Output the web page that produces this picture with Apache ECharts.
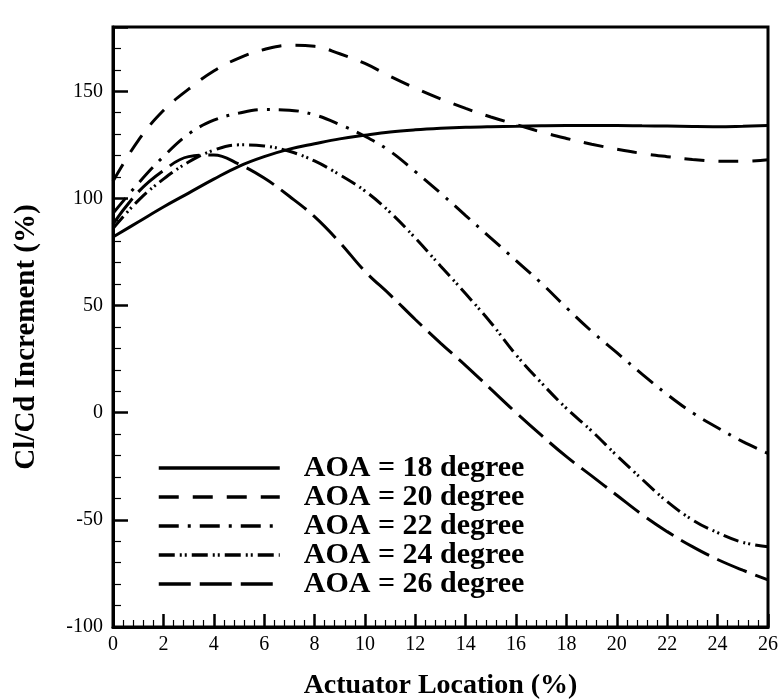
<!DOCTYPE html>
<html>
<head>
<meta charset="utf-8">
<script src="https://cdn.jsdelivr.net/npm/echarts@6/dist/echarts.min.js"></script>
<style>html,body{margin:0;padding:0;background:#fff;}#c{width:782px;height:700px;}</style>
</head>
<body>
<div id="c"></div>
<script>
const xValues = [0,1,2,3,4,5,6,7,8,9,10,11,12,13,14,15,16,17,18,19,20,21,22,23,24,25,26];
const aoa18 = [82,89,96,102.5,109,115,119.5,123,125.5,127.8,129.5,131,132,132.7,133.2,133.5,133.7,133.9,134,134,134,133.9,133.8,133.6,133.5,133.7,134];
const aoa20 = [108,127,141,151,159.5,165.5,169.5,171.5,171,167.5,163,157,151.5,146.5,142,138,134.5,131,128,125.3,123,121,119.5,118.2,117.4,117.3,118];
const aoa22 = [93,107,119.5,130,136.5,139.8,141.5,141.2,139,134.5,129,122,112.5,102.5,92,81.5,71,60.5,49,38,28,18,8.5,0,-7,-13.5,-19];
const aoa24 = [86,99,109,117,122.5,125,124.5,122,117.5,111,103.5,93.5,81.5,68.5,55.5,42,27,14,2,-8.5,-20,-31,-41.5,-50,-56,-60.5,-62.5];
const aoa26 = [88,103,113,119.5,120.3,116,109.5,101,91.5,79.5,66,55,43.5,32.5,22,11,0,-10.5,-20.5,-29.5,-38.5,-47.5,-55.5,-62.5,-68.5,-73.5,-78];
const seriesNames = ['AOA = 18 degree','AOA = 20 degree','AOA = 22 degree','AOA = 24 degree','AOA = 26 degree'];
const seriesData = [aoa18, aoa20, aoa22, aoa24, aoa26];
const dashes = ['solid',[20,14],[20,9,3,9],[16,5,2,3,2,5],[32,9]];
const xTitle = 'Actuator Location (%)';
const yTitle = 'Cl/Cd Increment (%)';

const font = "'Liberation Serif','Times New Roman',serif";
const chart = echarts.init(document.getElementById('c'), null, {renderer:'canvas'});
chart.setOption({
  animation: false,
  backgroundColor: '#fff',
  grid: {left:113, right:14, top:27, bottom:73, containLabel:false, outerBoundsMode:'none',
         show:true, borderColor:'#000', borderWidth:3, backgroundColor:'transparent'},
  legend: {
    orient:'vertical', left:157, top:453, itemWidth:121, itemHeight:20, itemGap:-1, padding:0,
    data: seriesNames,
    itemStyle:{opacity:0},
    lineStyle:{width:3.5},
    textStyle:{fontFamily:font, fontSize:30, fontWeight:'bold', color:'#000', padding:[0,0,0,19], lineHeight:28},
    inactiveColor:'#000'
  },
  xAxis: {
    type:'value', min:0, max:26, interval:2,
    name:xTitle, nameLocation:'middle', nameGap:45,
    nameTextStyle:{fontFamily:font, fontSize:28, fontWeight:'bold', color:'#000'},
    axisLine:{show:true, onZero:false, lineStyle:{color:'#000', width:3}},
    axisTick:{show:true, inside:true, length:13, lineStyle:{color:'#000', width:2.5}},
    minorTick:{show:true, splitNumber:5, length:7, lineStyle:{color:'#000', width:1.2}},
    axisLabel:{fontFamily:font, fontSize:20, color:'#000', margin:8},
    splitLine:{show:false}
  },
  yAxis: {
    type:'value', min:-100, max:180, interval:50,
    name:yTitle, nameLocation:'middle', nameGap:72,
    nameTextStyle:{fontFamily:font, fontSize:29, fontWeight:'bold', color:'#000', padding:[0,20,0,0]},
    axisLine:{show:true, onZero:false, lineStyle:{color:'#000', width:3}},
    axisTick:{show:true, inside:true, length:15, lineStyle:{color:'#000', width:2.5}},
    minorTick:{show:true, splitNumber:5, length:8, lineStyle:{color:'#000', width:1.2}},
    axisLabel:{fontFamily:font, fontSize:20, color:'#000', margin:10, showMaxLabel:false},
    splitLine:{show:false}
  },
  series: seriesData.map((d,i)=>({
    name: seriesNames[i],
    type:'line',
    smooth:0.4,
    symbol:'none',
    data: xValues.map((x,j)=>[x,d[j]]),
    lineStyle:{color:'#000', width:3, type:dashes[i]},
    itemStyle:{color:'#000'}
  }))
});
</script>
</body>
</html>
